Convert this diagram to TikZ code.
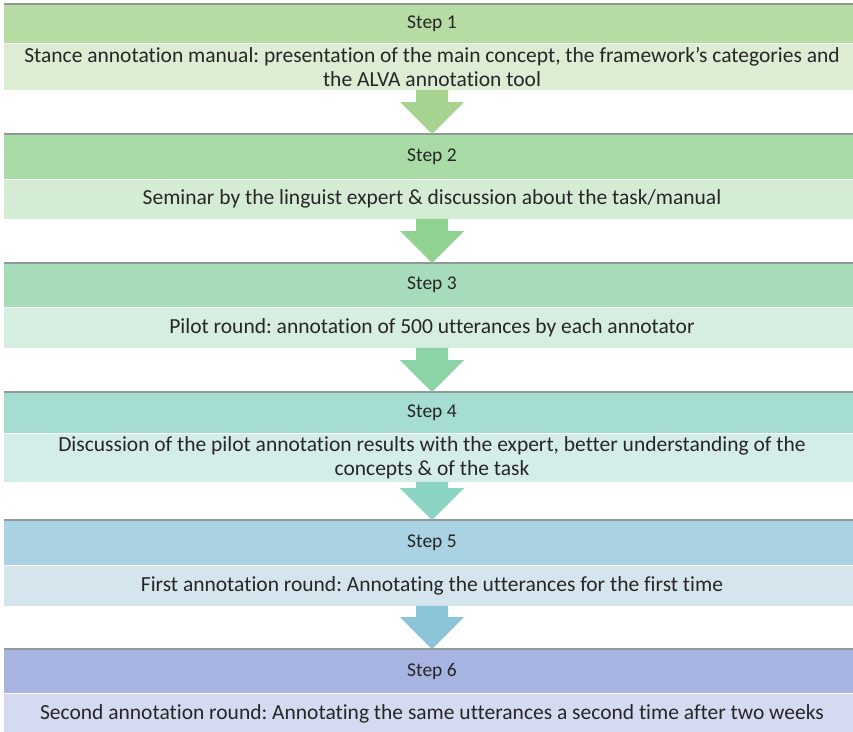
\documentclass[tikz,border=0pt]{standalone}
\usepackage{fontspec}
\setmainfont{Carlito}[Ligatures=NoCommon]
\usetikzlibrary{calc}
\definecolor{hA}{HTML}{B6DBA3}\definecolor{bA}{HTML}{DCEDD3}\definecolor{aA}{HTML}{A6D38F}
\definecolor{hB}{HTML}{A9DBA7}\definecolor{bB}{HTML}{D5ECD4}\definecolor{aB}{HTML}{90D290}
\definecolor{hC}{HTML}{A7DCBB}\definecolor{bC}{HTML}{D5EEDF}\definecolor{aC}{HTML}{8ED4A9}
\definecolor{hD}{HTML}{A6DDD2}\definecolor{bD}{HTML}{D5EDE9}\definecolor{aD}{HTML}{8BD4C4}
\definecolor{hE}{HTML}{A9D2E2}\definecolor{bE}{HTML}{D5E5EE}\definecolor{aE}{HTML}{8CC4D8}
\definecolor{hF}{HTML}{A7B4E2}\definecolor{bF}{HTML}{D4DBF1}
\definecolor{rule}{HTML}{8E9A96}
\tikzset{
  hdr/.style={rectangle, minimum width=856pt, inner sep=0pt, font=\fontsize{19.5}{23}\selectfont, text=black!85},
  bdy/.style={rectangle, minimum width=856pt, inner sep=0pt, align=center, font=\fontsize{21.5}{24}\selectfont, text=black!85},
  topline/.style={draw=rule, line width=1.6pt},
}
\frenchspacing
\newcommand{\blockarr}[3]{%
  \fill[#3] ($(#1.south)+(-16,0)$) -- ($(#2.north)+(-16,-32)$) -- ($(#2.north)+(-32,-32)$) -- (#2.north)
    -- ($(#2.north)+(32,-32)$) -- ($(#2.north)+(16,-32)$) -- ($(#1.south)+(16,0)$) -- cycle;}
\begin{document}
\begin{tikzpicture}[x=1pt,y=-1pt]
\useasboundingbox (0,0) rectangle (853,731);
\fill[white] (0,0) rectangle (853,731);
% Step 1
\node[hdr, fill=hA, minimum height=39pt, anchor=north] (h1) at (432,4) {Step 1};
\node[bdy, fill=bA, minimum height=46pt, anchor=north] (b1) at (h1.south) {Stance annotation manual: presentation of the main concept, the framework’s categories and\\the ALVA annotation tool};
% Step 2
\node[hdr, fill=hB, minimum height=45pt, anchor=north] (h2) at (432,134) {Step 2};
\node[bdy, fill=bB, minimum height=39pt, anchor=north] (b2) at (h2.south) {Seminar by the linguist expert \& discussion about the task/manual};
% Step 3
\node[hdr, fill=hC, minimum height=44pt, anchor=north] (h3) at (432,263) {Step 3};
\node[bdy, fill=bC, minimum height=40pt, anchor=north] (b3) at (h3.south) {Pilot round: annotation of 500 utterances by each annotator};
% Step 4
\node[hdr, fill=hD, minimum height=41pt, anchor=north] (h4) at (432,392) {Step 4};
\node[bdy, fill=bD, minimum height=48pt, anchor=north] (b4) at (h4.south) {Discussion of the pilot annotation results with the expert, better understanding of the\\concepts \& of the task};
% Step 5
\node[hdr, fill=hE, minimum height=45pt, anchor=north] (h5) at (432,520) {Step 5};
\node[bdy, fill=bE, minimum height=40pt, anchor=north] (b5) at (h5.south) {First annotation round: Annotating the utterances for the first time};
% Step 6
\node[hdr, fill=hF, minimum height=44pt, anchor=north] (h6) at (432,649) {Step 6};
\node[bdy, fill=bF, minimum height=40pt, anchor=north] (b6) at (h6.south) {Second annotation round: Annotating the same utterances a second time after two weeks};
% top rules
\foreach \n in {h1,h2,h3,h4,h5,h6}{\draw[topline] (\n.north west) -- (\n.north east);}
% arrows
\blockarr{b1}{h2}{aA}
\blockarr{b2}{h3}{aB}
\blockarr{b3}{h4}{aC}
\blockarr{b4}{h5}{aD}
\blockarr{b5}{h6}{aE}
\end{tikzpicture}
\end{document}
